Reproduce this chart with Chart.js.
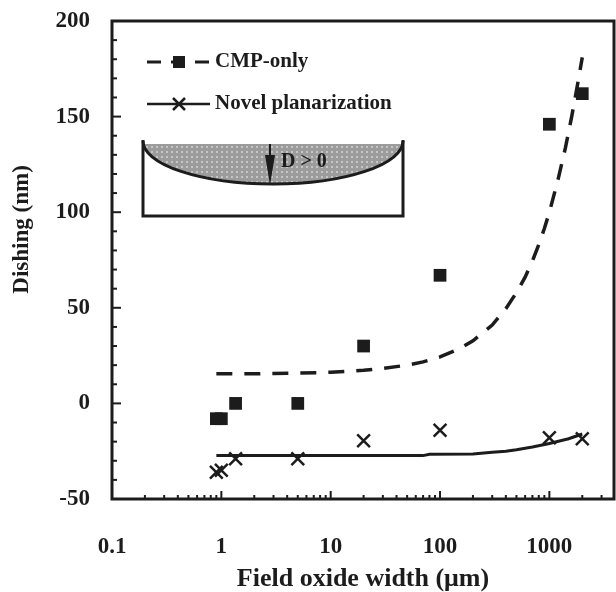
<!DOCTYPE html>
<html>
<head>
<meta charset="utf-8">
<script src="https://cdn.jsdelivr.net/npm/chart.js@4.4.0/dist/chart.umd.min.js"></script>
<style>
html, body { margin: 0; padding: 0; background: #fff; }
</style>
</head>
<body>
<canvas id="dishingChart" width="616" height="592"></canvas>
<script>
// measured points (field oxide width in um, dishing in nm)
const cmpWidths = [0.9, 1.0, 1.35, 5, 20, 100, 1000, 2000];
const cmpDishing = [-8, -8, 0, 0, 30, 67, 146, 162];
const novelWidths = [0.9, 1.0, 1.35, 5, 20, 100, 1000, 2000];
const novelDishing = [-36, -35, -29, -29, -19.5, -14, -18, -18.5];

// fitted curves
const cmpFitWidths = [0.9, 2, 5, 10, 20, 30, 50, 70, 100, 150, 200, 300, 400, 500, 600, 700, 800, 900, 1000, 1200, 1400, 1600, 1800, 2000];
const cmpFitDishing = [15.5, 15.5, 15.8, 16.3, 17.3, 18.3, 20, 21.7, 24.3, 28.5, 32.7, 41, 49.5, 58, 66, 74.5, 83, 91.5, 100, 117, 133.5, 150, 166, 181];
const novelFitWidths = [0.9, 10, 70, 80, 200, 300, 400, 500, 700, 1000, 1500, 2000];
const novelFitDishing = [-27.3, -27.3, -27.3, -26.6, -26.4, -25.6, -25, -24.2, -22.8, -21, -18.5, -16];

const xTickValues = [0.1, 1, 10, 100, 1000];
const yTickValues = [-50, 0, 50, 100, 150, 200];

const ink = '#1c1c1c';
const serif = "'Liberation Serif', 'Times New Roman', serif";

function pts(xs, ys) {
    return xs.map((x, i) => ({ x: x, y: ys[i] }));
}

// frame, inward tick marks, y title
const framePlugin = {
    id: 'frame',
    afterDraw(chart) {
        const ctx = chart.ctx;
        const ca = chart.chartArea;
        const xs = chart.scales.x;
        const ys = chart.scales.y;
        ctx.save();
        ctx.strokeStyle = ink;
        ctx.lineWidth = 2;
        // y ticks every 10, longer every 50
        for (let v = ys.min; v <= ys.max; v += 10) {
            const py = ys.getPixelForValue(v);
            const len = (v % 50 === 0) ? 9 : 5;
            ctx.beginPath();
            ctx.moveTo(ca.left, py);
            ctx.lineTo(ca.left + len, py);
            ctx.stroke();
        }
        // x ticks on the log axis
        for (let e = -1; e <= 3; e++) {
            for (let k = 1; k <= 9; k++) {
                const v = k * Math.pow(10, e);
                if (v < xs.min || v > xs.max) continue;
                const px = xs.getPixelForValue(v);
                const len = k === 1 ? 8 : 4;
                ctx.beginPath();
                ctx.moveTo(px, ca.bottom);
                ctx.lineTo(px, ca.bottom - len);
                ctx.stroke();
            }
        }
        ctx.lineWidth = 3;
        ctx.strokeRect(ca.left, ca.top, ca.right - ca.left, ca.bottom - ca.top);

        // y title sits a bit above the middle of the axis
        ctx.translate(22, ys.getPixelForValue(91));
        ctx.rotate(-Math.PI / 2);
        ctx.fillStyle = ink;
        ctx.font = 'bold 23px ' + serif;
        ctx.textAlign = 'center';
        ctx.textBaseline = 'middle';
        ctx.fillText('Dishing (nm)', 0, 0);
        ctx.restore();
    }
};

// legend entries and the dishing sketch
const insetPlugin = {
    id: 'inset',
    afterDraw(chart) {
        const ctx = chart.ctx;
        const ca = chart.chartArea;
        ctx.save();

        // legend
        const lx = ca.left + 35, lw = 63, tx = ca.left + 103;
        const y1 = ca.top + 41, y2 = ca.top + 83;
        ctx.strokeStyle = ink;
        ctx.fillStyle = ink;
        ctx.lineWidth = 3;
        ctx.setLineDash([14, 10]);
        ctx.beginPath();
        ctx.moveTo(lx, y1);
        ctx.lineTo(lx + lw, y1);
        ctx.stroke();
        ctx.setLineDash([]);
        ctx.fillRect(lx + 26, y1 - 6, 12, 12);
        ctx.lineWidth = 2.5;
        ctx.beginPath();
        ctx.moveTo(lx, y2);
        ctx.lineTo(lx + lw, y2);
        ctx.stroke();
        ctx.beginPath();
        ctx.moveTo(lx + 26, y2 - 6);
        ctx.lineTo(lx + 38, y2 + 6);
        ctx.moveTo(lx + 38, y2 - 6);
        ctx.lineTo(lx + 26, y2 + 6);
        ctx.stroke();
        ctx.font = 'bold 21px ' + serif;
        ctx.textBaseline = 'middle';
        ctx.textAlign = 'left';
        ctx.fillText('CMP-only', tx, y1);
        ctx.fillText('Novel planarization', tx, y2);

        // sketch of a dished trench
        const bl = ca.left + 31, br = ca.left + 291;
        const bt = ca.top + 119, bb = ca.top + 195;
        const cx = (bl + br) / 2, ry = 43;
        const pat = document.createElement('canvas');
        pat.width = 5; pat.height = 5;
        const pc = pat.getContext('2d');
        pc.fillStyle = '#9c9c9c';
        pc.fillRect(0, 0, 5, 5);
        pc.fillStyle = '#c6c6c6';
        pc.fillRect(1, 1, 2, 2);
        ctx.save();
        ctx.beginPath();
        ctx.ellipse(cx, bt + 1, (br - bl) / 2, ry, 0, 0, Math.PI);
        ctx.closePath();
        ctx.clip();
        ctx.fillStyle = ctx.createPattern(pat, 'repeat');
        ctx.fillRect(bl, bt + 4, br - bl, ry + 2);
        ctx.restore();

        ctx.strokeStyle = ink;
        ctx.lineWidth = 3;
        ctx.beginPath();
        ctx.ellipse(cx, bt + 1, (br - bl) / 2, ry, 0, 0, Math.PI);
        ctx.stroke();
        ctx.beginPath();
        ctx.moveTo(bl, bt);
        ctx.lineTo(bl, bb);
        ctx.lineTo(br, bb);
        ctx.lineTo(br, bt);
        ctx.stroke();

        // arrow
        const ax = cx - 3;
        ctx.lineWidth = 2;
        ctx.beginPath();
        ctx.moveTo(ax, bt + 4);
        ctx.lineTo(ax, bt + 18);
        ctx.stroke();
        ctx.fillStyle = ink;
        ctx.beginPath();
        ctx.moveTo(ax - 5, bt + 15);
        ctx.lineTo(ax + 5, bt + 15);
        ctx.lineTo(ax, bt + ry + 2);
        ctx.closePath();
        ctx.fill();
        ctx.font = 'bold 20px ' + serif;
        ctx.textBaseline = 'middle';
        ctx.fillText('D > 0', ax + 11, bt + 22);

        ctx.restore();
    }
};

new Chart(document.getElementById('dishingChart'), {
    type: 'scatter',
    data: {
        datasets: [
            {
                label: 'CMP-only',
                data: pts(cmpWidths, cmpDishing),
                pointStyle: 'rect',
                pointRadius: 9,
                backgroundColor: ink,
                borderWidth: 0,
                showLine: false
            },
            {
                label: 'CMP-only fit',
                data: pts(cmpFitWidths, cmpFitDishing),
                showLine: true,
                pointRadius: 0,
                borderColor: ink,
                borderWidth: 3.5,
                borderDash: [16, 12],
                tension: 0
            },
            {
                label: 'Novel planarization',
                data: pts(novelWidths, novelDishing),
                pointStyle: 'crossRot',
                pointRadius: 9,
                borderColor: ink,
                borderWidth: 2.5,
                showLine: false
            },
            {
                label: 'Novel planarization fit',
                data: pts(novelFitWidths, novelFitDishing),
                showLine: true,
                pointRadius: 0,
                borderColor: ink,
                borderWidth: 3,
                tension: 0
            }
        ]
    },
    options: {
        responsive: false,
        animation: false,
        events: [],
        layout: { autoPadding: false, padding: { top: 21, right: 2, left: 0, bottom: 0 } },
        plugins: {
            legend: { display: false },
            tooltip: { enabled: false }
        },
        scales: {
            x: {
                type: 'logarithmic',
                min: 0.1,
                max: 3900,
                afterBuildTicks: s => { s.ticks = xTickValues.map(v => ({ value: v })); },
                afterFit: s => { s.height = 93; s.paddingLeft = 0; s.paddingRight = 0; },
                grid: { display: false, drawTicks: false },
                border: { display: false },
                ticks: {
                    autoSkip: false,
                    maxRotation: 0,
                    padding: 34,
                    color: ink,
                    font: { family: serif, size: 23, weight: 'bold' },
                    callback: v => String(v)
                },
                title: {
                    display: true,
                    text: 'Field oxide width (\u03bcm)',
                    color: ink,
                    padding: { top: 0, bottom: 0 },
                    font: { family: serif, size: 26, weight: 'bold', lineHeight: 1.0 }
                }
            },
            y: {
                type: 'linear',
                min: -50,
                max: 200,
                afterBuildTicks: s => { s.ticks = yTickValues.map(v => ({ value: v })); },
                afterFit: s => { s.width = 112; s.paddingTop = 0; s.paddingBottom = 0; },
                grid: { display: false, drawTicks: false },
                border: { display: false },
                ticks: {
                    padding: 22,
                    color: ink,
                    font: { family: serif, size: 23, weight: 'bold' }
                },
                title: { display: false }
            }
        }
    },
    plugins: [framePlugin, insetPlugin]
});
</script>
</body>
</html>
